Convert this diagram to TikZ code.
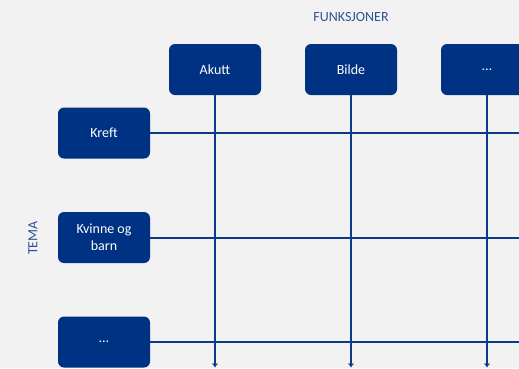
\documentclass[tikz,border=0pt]{standalone}
\usepackage{fontspec}
\setmainfont{Carlito}
\usetikzlibrary{arrows.meta}
\definecolor{bg}{HTML}{F2F2F2}
\definecolor{boxblue}{HTML}{003283}
\definecolor{lineblue}{HTML}{0E3A8A}
\definecolor{labelblue}{HTML}{2F5496}
\tikzset{
  box/.style={draw=none, fill=boxblue, rounded corners=6pt, minimum width=92pt, minimum height=51pt,
    text=white, align=center, inner sep=0pt, font=\fontsize{14}{17}\selectfont},
  conn/.style={draw=lineblue, line width=2pt},
  arr/.style={conn, -{Latex[length=4pt,width=6.5pt]}},
  lbl/.style={text=labelblue, font=\fontsize{14}{16}\selectfont, inner sep=0pt}
}
\begin{document}
\begin{tikzpicture}[x=1pt,y=-1pt]
\fill[bg] (0,0) rectangle (519,368);
\useasboundingbox (0,0) rectangle (519,368);
\clip (0,0) rectangle (519,368);
\node[lbl] (funk) at (351,17) {FUNKSJONER};
\node[lbl, rotate=90] (tema) at (33,238) {TEMA};
\node[box] (akutt) at (215,69.5) {Akutt};
\node[box] (bilde) at (351,69.5) {Bilde};
\node[box] (fdots) at (487,69.5) {…};
\node[box] (kreft) at (104,133) {Kreft};
\node[box] (kvinne) at (104,237.5) {Kvinne og\\barn};
\node[box] (tdots) at (104,342) {…};
\coordinate (h1) at (530,133);
\coordinate (h2) at (530,237.5);
\coordinate (h3) at (530,342);
\coordinate (v1) at (215,367.5);
\coordinate (v2) at (351,367.5);
\coordinate (v3) at (487,367.5);
\draw[conn] (kreft.east) -- (h1);
\draw[conn] (kvinne.east) -- (h2);
\draw[conn] (tdots.east) -- (h3);
\draw[arr] (akutt.south) -- (v1);
\draw[arr] (bilde.south) -- (v2);
\draw[arr] (fdots.south) -- (v3);
\end{tikzpicture}
\end{document}
